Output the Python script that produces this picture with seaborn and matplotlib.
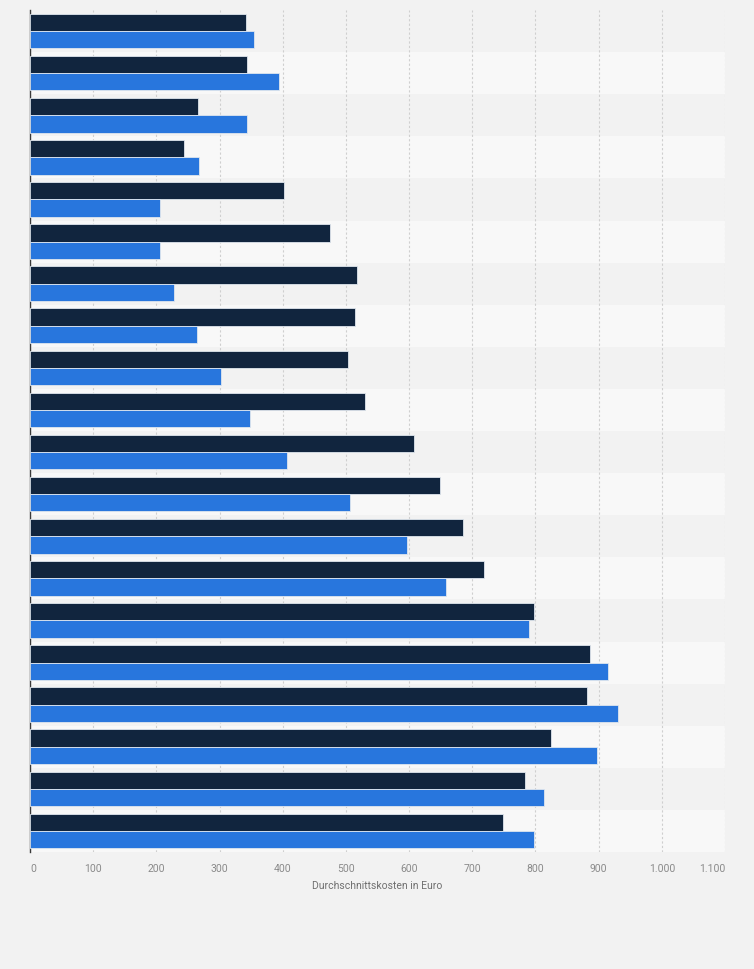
import pandas as pd
import matplotlib
matplotlib.use('Agg')
import matplotlib.pyplot as plt
import seaborn as sns

# values (no category labels are shown in the reference)
categories = [f'Kategorie {i}' for i in range(1, 21)]
series_1 = [342, 343, 266, 244, 402, 475, 518, 515, 504, 531,
            608, 649, 686, 719, 798, 887, 881, 824, 783, 749]
series_2 = [354, 394, 343, 267, 205, 206, 228, 265, 303, 348,
            406, 507, 597, 659, 789, 915, 931, 897, 814, 798]
series_names = ['Reihe 1', 'Reihe 2']
x_ticks = list(range(0, 1101, 100))
x_tick_labels = [f'{t:,}'.replace(',', '.') for t in x_ticks]

df = pd.DataFrame({'Kategorie': categories, series_names[0]: series_1, series_names[1]: series_2})
long_df = df.melt(id_vars='Kategorie', var_name='Reihe', value_name='Kosten')

sns.set_style('white')
plt.rcParams['font.family'] = ['Roboto', 'DejaVu Sans']

fig = plt.figure(figsize=(7.54, 9.69), dpi=100, facecolor='#f2f2f2')
ax = fig.add_axes([30 / 754, 1 - 852 / 969, 695 / 754, 842 / 969])
ax.set_facecolor('#f2f2f2')

# alternating row bands
for i in range(len(categories)):
    if i % 2 == 1:
        ax.axhspan(i - 0.5, i + 0.5, color='#f8f8f8', zorder=0, lw=0)

sns.barplot(data=long_df, y='Kategorie', x='Kosten', hue='Reihe', orient='h',
            palette=['#11253e', '#2876dd'], saturation=1, width=0.82,
            edgecolor='#dfe6ee', linewidth=0.6, legend=False, ax=ax, zorder=3)

ax.set_xlim(0, 1100)
ax.set_ylim(len(categories) - 0.5, -0.5)
ax.set_xticks(x_ticks, x_tick_labels)
ax.grid(axis='x', color='#cfcfcf', linestyle=(0, (2, 2)), linewidth=0.8, zorder=1)
ax.set_axisbelow(True)

ax.set_yticks([])
ax.set_ylabel('')
ax.set_xlabel('Durchschnittskosten in Euro', fontsize=7.5, color='#707070', labelpad=5)
ax.tick_params(axis='x', length=0, pad=9, labelsize=7.5, labelcolor='#8a8a8a')

# keep the outer tick labels inside the plot width
xlabels = ax.get_xticklabels()
xlabels[0].set_horizontalalignment('left')
xlabels[-1].set_horizontalalignment('right')

for side in ['top', 'right', 'bottom']:
    ax.spines[side].set_visible(False)
ax.spines['left'].set_color('#3a3a3a')
ax.spines['left'].set_linewidth(1)

fig.savefig('out.png', dpi=100, facecolor=fig.get_facecolor())
